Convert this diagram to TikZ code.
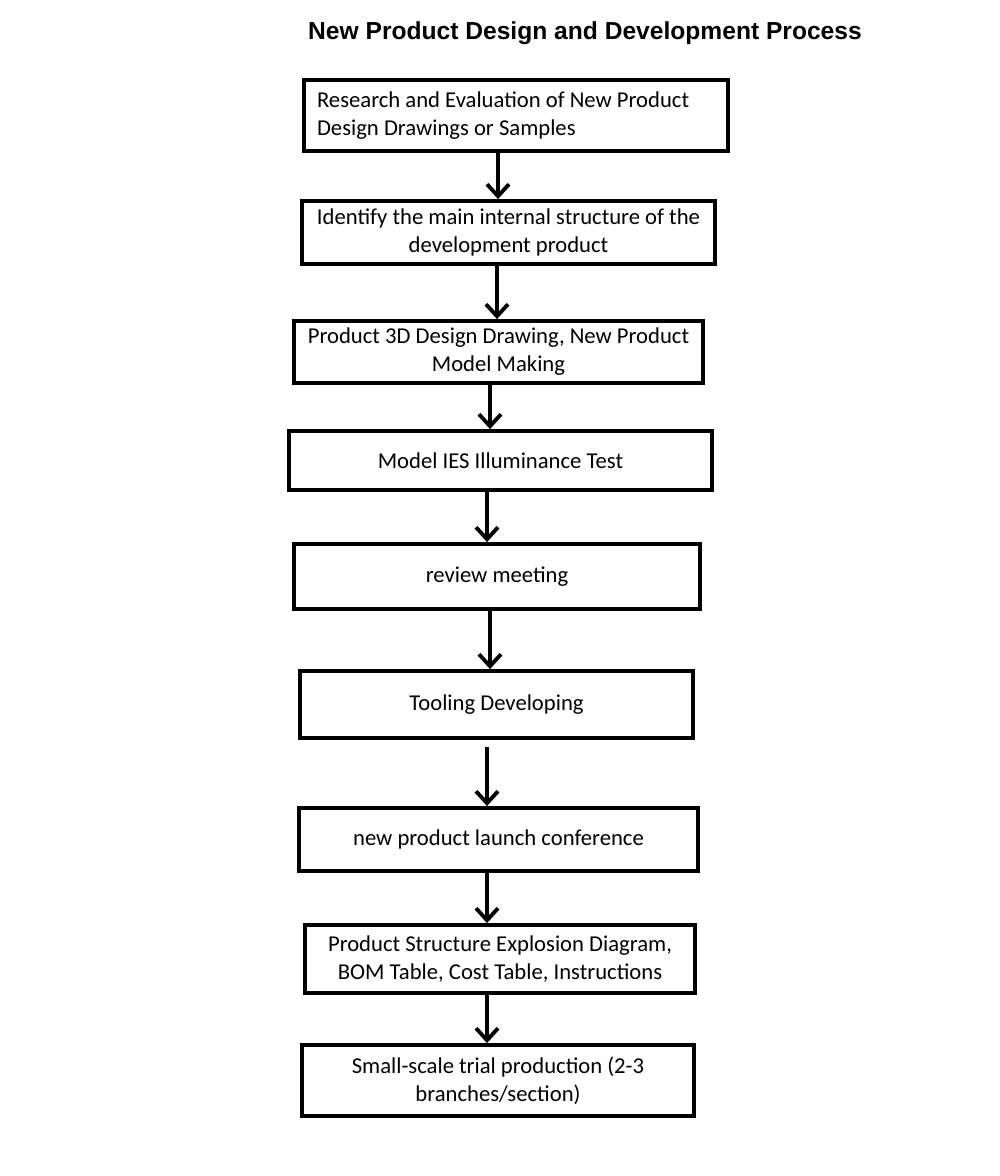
\documentclass[tikz,border=0pt]{standalone}
\usepackage{fontspec}
\setmainfont{Carlito}
\newfontfamily\titlefont{Liberation Sans}
\usetikzlibrary{arrows.meta, positioning}
\tikzset{
    stepbox/.style={
        draw,
        line width=2.2pt,
        inner sep=0pt,
        align=center,
        font=\fontsize{12.9}{16}\selectfont
    },
    flow/.style={-{Straight Barb[length=2.4mm, width=4.4mm]}, line width=2.2pt},
    heading/.style={font=\titlefont\bfseries\fontsize{14}{16}\selectfont}
}

\begin{document}
\begin{tikzpicture}[x=0.02cm, y=-0.02cm]
\useasboundingbox (0,0) rectangle (1000,1176);

\node[heading] (title) at (585,33) {New Product Design and Development Process};

\node[stepbox, minimum width=8.48cm, minimum height=1.42cm, text width=7.96cm, align=flush left] (research) at (516,115.5)
    {Research and Evaluation of New Product\\Design Drawings or Samples};
\node[stepbox, minimum width=8.26cm, minimum height=1.26cm] (structure) at (508.5,232.5)
    {Identify the main internal structure of the\\development product};
\node[stepbox, minimum width=8.18cm, minimum height=1.24cm] (model) at (498.5,352)
    {Product 3D Design Drawing, New Product\\Model Making};
\node[stepbox, minimum width=8.46cm, minimum height=1.18cm] (ies) at (500.5,460.5)
    {Model IES Illuminance Test};
\node[stepbox, minimum width=8.12cm, minimum height=1.3cm] (review) at (497,576.5)
    {review meeting};
\node[stepbox, minimum width=7.86cm, minimum height=1.34cm] (tooling) at (496.5,704.5)
    {Tooling Developing};
\node[stepbox, minimum width=7.98cm, minimum height=1.26cm] (launch) at (498.5,839.5)
    {new product launch conference};
\node[stepbox, minimum width=7.8cm, minimum height=1.36cm] (bom) at (500,959)
    {Product Structure Explosion Diagram,\\BOM Table, Cost Table, Instructions};
\node[stepbox, minimum width=7.84cm, minimum height=1.42cm] (trial) at (498,1080.5)
    {Small-scale trial production (2-3\\branches/section)};

% arrows between the steps
\foreach \from/\to/\xa in {research/structure/498, structure/model/497, model/ies/490,
    ies/review/487, review/tooling/490, launch/bom/487, bom/trial/487}
    \draw[flow] (\from.south -| \xa,0) -- (\to.north -| \xa,0);
\draw[flow, shorten <=0.14cm] (tooling.south -| 487,0) -- (launch.north -| 487,0);
\end{tikzpicture}
\end{document}
